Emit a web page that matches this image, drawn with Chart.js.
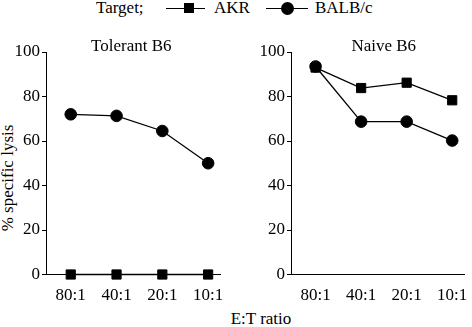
<!DOCTYPE html>
<html>
<head>
<meta charset="utf-8">
<script src="https://cdn.jsdelivr.net/npm/chart.js@4.4.1/dist/chart.umd.min.js"></script>
<style>
  html, body { margin: 0; padding: 0; background: #fff; }
  body { width: 472px; height: 327px; position: relative; overflow: hidden;
         font-family: "Liberation Serif", serif; font-size: 17px; color: #000; }
  .abs { position: absolute; white-space: nowrap; line-height: 18px; }
  .line { position: absolute; height: 1px; background: #000; }
  .sq { position: absolute; width: 10px; height: 10px; background: #000; }
  .dot { position: absolute; width: 13px; height: 13px; border-radius: 50%; background: #000; }
</style>
</head>
<body>
<div class="abs" style="left:96px; top:-1px;">Target;</div>
<div class="line" style="left:166px; top:8px; width:39px;"></div>
<div class="sq" style="left:184px; top:3px;"></div>
<div class="abs" id="lbl0" style="left:214px; top:-1px;"></div>
<div class="line" style="left:266px; top:8px; width:42px;"></div>
<div class="dot" style="left:281px; top:2px;"></div>
<div class="abs" id="lbl1" style="left:315px; top:-1px;"></div>

<div class="abs" style="left:8px; top:178px; transform: translate(-50%, -50%) rotate(-90deg);">% specific lysis</div>
<div class="abs" style="left:261px; top:319px; transform: translate(-50%, -50%);">E:T ratio</div>

<div class="abs" style="left:0; top:30px; width:228px; height:271px;"><canvas id="left"></canvas></div>
<div class="abs" style="left:240px; top:30px; width:232px; height:271px;"><canvas id="right"></canvas></div>

<script>
// E:T ratios on the x axis
const ratios = ['80:1', '40:1', '20:1', '10:1'];
const targets = ['AKR', 'BALB/c'];

// % specific lysis, tolerant B6 effectors
const tolerantAKR = [0, 0, 0, 0];
const tolerantBALB = [72, 71.3, 64.5, 50];

// % specific lysis, naive B6 effectors
const naiveAKR = [93, 83.8, 86.2, 78.3];
const naiveBALB = [93.5, 68.7, 68.7, 60.2];

const yTicks = [0, 20, 40, 60, 80, 100];

document.getElementById('lbl0').textContent = targets[0];
document.getElementById('lbl1').textContent = targets[1];

const font = { family: '"Liberation Serif", serif', size: 17 };

// draws the panel name just above the plot area
const panelTitle = {
  id: 'panelTitle',
  afterDraw(chart, args, opts) {
    const a = chart.chartArea;
    const ctx = chart.ctx;
    ctx.save();
    ctx.font = '17px "Liberation Serif", serif';
    ctx.fillStyle = '#000';
    ctx.textAlign = 'center';
    ctx.textBaseline = 'middle';
    ctx.fillText(opts.text, (a.left + a.right) / 2 + (opts.dx || 0), a.top - 5);
    ctx.restore();
  }
};

function series(label, values, style) {
  return {
    label: label,
    data: values.map((v, i) => ({ x: i, y: v })),
    borderColor: '#000',
    backgroundColor: '#000',
    borderWidth: 1.3,
    pointStyle: style,
    pointRadius: style === 'rect' ? 6.5 : 5.8,
    pointBorderWidth: 1,
    clip: false
  };
}

function makePanel(id, title, dx, akr, balb, yWidth, padRight) {
  new Chart(document.getElementById(id), {
    type: 'line',
    data: {
      datasets: [
        series(targets[0], akr, 'rect'),
        series(targets[1], balb, 'circle')
      ]
    },
    plugins: [panelTitle],
    options: {
      responsive: true,
      maintainAspectRatio: false,
      animation: false,
      layout: { padding: { top: 22, right: padRight, left: 0, bottom: 0 } },
      plugins: {
        legend: { display: false },
        tooltip: { enabled: false },
        panelTitle: { text: title, dx: dx }
      },
      scales: {
        x: {
          type: 'linear',
          min: -0.54,
          max: 3.27,
          afterBuildTicks: s => { s.ticks = ratios.map((r, i) => ({ value: i })); },
          afterFit: s => { s.height = 26.5; },
          ticks: {
            callback: v => ratios[v],
            color: '#000',
            font: font,
            padding: 0,
            maxRotation: 0,
            autoSkip: false
          },
          // invisible tick marks push the labels down without widening the padding
          grid: { display: true, drawOnChartArea: false, drawTicks: true, tickLength: 11, tickColor: 'rgba(0,0,0,0)' },
          border: { display: true, color: '#000', width: 1 }
        },
        y: {
          min: 0,
          max: 100,
          afterBuildTicks: s => { s.ticks = yTicks.map(v => ({ value: v })); },
          afterFit: s => { s.width = yWidth; },
          ticks: { color: '#000', font: font, padding: 2 },
          grid: { display: true, drawOnChartArea: false, drawTicks: true, tickLength: 4, color: '#000' },
          border: { display: true, color: '#000', width: 1 }
        }
      }
    }
  });
}

makePanel('left', 'Tolerant B6', -2, tolerantAKR, tolerantBALB, 46, 3);
makePanel('right', 'Naive B6', 6, naiveAKR, naiveBALB, 51, 2);
</script>
</body>
</html>
